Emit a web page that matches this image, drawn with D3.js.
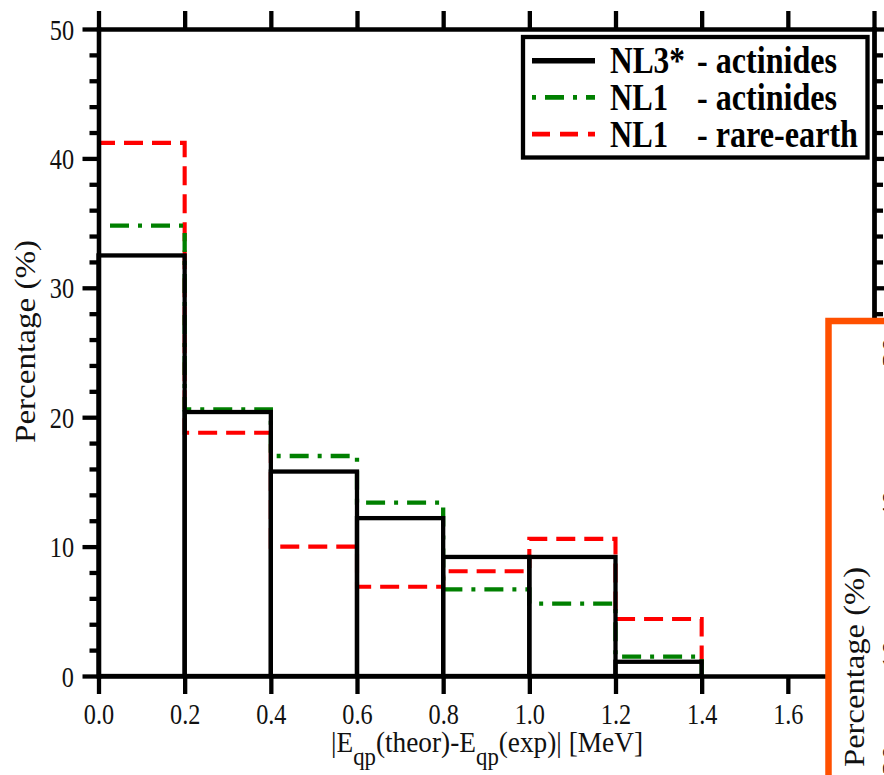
<!DOCTYPE html>
<html>
<head>
<meta charset="utf-8">
<script src="https://cdn.jsdelivr.net/npm/d3@7"></script>
<style>
  html, body { margin: 0; padding: 0; background: #fff; overflow: hidden; }
  svg { display: block; }
  text { font-family: "Liberation Serif", "Times New Roman", serif; }
</style>
</head>
<body>
<svg id="chart" width="884" height="775"></svg>
<script>
// Histogram of |E_qp(theor) - E_qp(exp)| deviations, in 0.2 MeV bins
const binStarts = [0.0, 0.2, 0.4, 0.6, 0.8, 1.0, 1.2];
const binWidth = 0.2;
const nl3Actinides = [32.5, 20.4, 15.8, 12.2, 9.2, 9.2, 1.1];
const nl1Actinides = [34.8, 20.6, 17.0, 13.4, 6.7, 5.6, 1.5];
const nl1RareEarth = [41.2, 18.8, 10.0, 6.9, 8.1, 10.6, 4.4];

const xTicks = [0.0, 0.2, 0.4, 0.6, 0.8, 1.0, 1.2, 1.4, 1.6, 1.8];
const yMajor = [0, 10, 20, 30, 40, 50];
const yMinor = [2, 4, 6, 8, 12, 14, 16, 18, 22, 24, 26, 28, 32, 34, 36, 38, 42, 44, 46, 48];
const legendNames = ["NL3*", "NL1", "NL1"];
const legendDescs = ["- actinides", "- actinides", "- rare-earth"];

const svg = d3.select("#chart");
const x = d3.scaleLinear().domain([0, 1.8]).range([98.5, 874]);
const y = d3.scaleLinear().domain([0, 50]).range([676, 29]);

const axisW = 4.3;
const sx = 0.82; // horizontal compression of the tick label glyphs

// step outline of one binned series, starting at the top of the first bin
function stepPath(vals) {
  const pts = vals.map((v, i) => [binStarts[i], v]);
  const last = binStarts[binStarts.length - 1] + binWidth;
  pts.push([last, vals[vals.length - 1]]);
  pts.push([last, 0]);
  return d3.line().x(d => x(d[0])).y(d => y(d[1])).curve(d3.curveStepAfter)(pts);
}

const plot = svg.append("g");

// NL1 rare-earth (red dashed)
plot.append("path")
  .attr("d", stepPath(nl1RareEarth))
  .attr("fill", "none").attr("stroke", "#ff0000")
  .attr("stroke-width", 4.1).attr("stroke-dasharray", "19,9").attr("stroke-dashoffset", 2.5);

// NL1 actinides (green dash-dot)
plot.append("path")
  .attr("d", stepPath(nl1Actinides))
  .attr("fill", "none").attr("stroke", "#008000")
  .attr("stroke-width", 4.3).attr("stroke-dasharray", "19,9,4,9").attr("stroke-dashoffset", 29.5);

// NL3* actinides (black bars)
plot.selectAll("rect.bar").data(nl3Actinides).join("rect")
  .attr("class", "bar")
  .attr("x", (d, i) => x(binStarts[i]))
  .attr("width", (d, i) => x(binStarts[i] + binWidth) - x(binStarts[i]))
  .attr("y", d => y(d))
  .attr("height", d => y(0) - y(d))
  .attr("fill", "none").attr("stroke", "#000").attr("stroke-width", 4.3);

// axes
function styleAxis(g) {
  g.selectAll("path.domain").attr("stroke", "#000").attr("stroke-width", axisW).attr("stroke-linecap", "square");
  g.selectAll(".tick line").attr("stroke", "#000").attr("stroke-width", axisW);
}

const axBottom = svg.append("g").attr("transform", `translate(0,${y(0)})`)
  .call(d3.axisBottom(x).tickValues(xTicks).tickFormat(d3.format(".1f")).tickSize(18).tickSizeOuter(0));
styleAxis(axBottom);
axBottom.selectAll(".tick text")
  .attr("y", 48).attr("dy", null)
  .attr("transform", `scale(${sx},1)`)
  .attr("font-size", 29.6).attr("fill", "#111");

const axTop = svg.append("g").attr("transform", `translate(0,${y(50)})`)
  .call(d3.axisTop(x).tickValues(xTicks).tickFormat("").tickSize(18).tickSizeOuter(0));
styleAxis(axTop);

const axLeft = svg.append("g").attr("transform", `translate(${x(0)},0)`)
  .call(d3.axisLeft(y).tickValues(yMajor).tickSize(16).tickSizeOuter(0));
styleAxis(axLeft);
axLeft.selectAll(".tick text")
  .attr("x", -24.5 / sx).attr("y", 10).attr("dy", null)
  .attr("transform", `scale(${sx},1)`)
  .attr("font-size", 29.6).attr("fill", "#111");
const axLeftMinor = svg.append("g").attr("transform", `translate(${x(0)},0)`)
  .call(d3.axisLeft(y).tickValues(yMinor).tickFormat("").tickSize(9).tickSizeOuter(0));
styleAxis(axLeftMinor);

const axRight = svg.append("g").attr("transform", `translate(${x(1.8)},0)`)
  .call(d3.axisRight(y).tickValues(yMajor).tickFormat("").tickSize(16).tickSizeOuter(0));
styleAxis(axRight);
const axRightMinor = svg.append("g").attr("transform", `translate(${x(1.8)},0)`)
  .call(d3.axisRight(y).tickValues(yMinor).tickFormat("").tickSize(9).tickSizeOuter(0));
styleAxis(axRightMinor);

// axis titles
svg.append("text")
  .attr("transform", "translate(35,341.5) rotate(-90)")
  .attr("text-anchor", "middle").attr("font-size", 30)
  .attr("textLength", 203).attr("lengthAdjust", "spacingAndGlyphs")
  .attr("fill", "#111")
  .text("Percentage (%)");

const xt = svg.append("text")
  .attr("x", 331).attr("y", 752).attr("font-size", 30).attr("fill", "#111")
  .attr("textLength", 312).attr("lengthAdjust", "spacingAndGlyphs");
xt.append("tspan").text("|E");
xt.append("tspan").attr("dy", 13).attr("font-size", 25).text("qp");
xt.append("tspan").attr("dy", -13).text("(theor)-E");
xt.append("tspan").attr("dy", 13).attr("font-size", 25).text("qp");
xt.append("tspan").attr("dy", -13).text("(exp)| [MeV]");

// legend
const legend = svg.append("g");
legend.append("rect")
  .attr("x", 523).attr("y", 37).attr("width", 344.5).attr("height", 120.5)
  .attr("fill", "#fff").attr("stroke", "#000").attr("stroke-width", 4.3);
const legendStyles = [
  { color: "#000", width: 5.5, dash: null, offset: 0 },
  { color: "#008000", width: 4.6, dash: "19,9,4,9", offset: 28 },
  { color: "#ff0000", width: 4.6, dash: "18,10", offset: 0 }
];
legendNames.forEach((name, i) => {
  const cy = 60.7 + i * 36.7;
  const st = legendStyles[i];
  legend.append("line")
    .attr("x1", 532).attr("x2", 595).attr("y1", cy).attr("y2", cy)
    .attr("stroke", st.color).attr("stroke-width", st.width)
    .attr("stroke-dasharray", st.dash).attr("stroke-dashoffset", st.offset);
  legend.append("text")
    .attr("x", 610).attr("y", cy + 12.6)
    .attr("font-size", 38).attr("font-weight", "bold")
    .attr("textLength", i === 0 ? 75 : 58).attr("lengthAdjust", "spacingAndGlyphs")
    .text(name);
  legend.append("text")
    .attr("x", 697).attr("y", cy + 12.6)
    .attr("font-size", 38).attr("font-weight", "bold")
    .attr("textLength", i === 2 ? 161 : 140).attr("lengthAdjust", "spacingAndGlyphs")
    .text(legendDescs[i]);
});

// neighbouring panel, framed in orange
const inset = svg.append("g");
inset.append("rect")
  .attr("x", 828.5).attr("y", 321).attr("width", 200).attr("height", 600)
  .attr("fill", "#fff").attr("stroke", "#ff5000").attr("stroke-width", 6.5);
inset.append("text")
  .attr("transform", "translate(864,767) rotate(-90)")
  .attr("font-size", 30).attr("fill", "#111")
  .attr("textLength", 200).attr("lengthAdjust", "spacingAndGlyphs")
  .text("Percentage (%)");
const insetLabels = [{ t: "30", y: 352 }, { t: "40", y: 505 }, { t: "10", y: 655 }, { t: "20", y: 760 }];
inset.selectAll("text.tl").data(insetLabels).join("text")
  .attr("class", "tl")
  .attr("transform", d => `translate(902,${d.y}) rotate(-90)`)
  .attr("text-anchor", "middle").attr("font-size", 30).attr("fill", "#111")
  .text(d => d.t);
</script>
</body>
</html>
